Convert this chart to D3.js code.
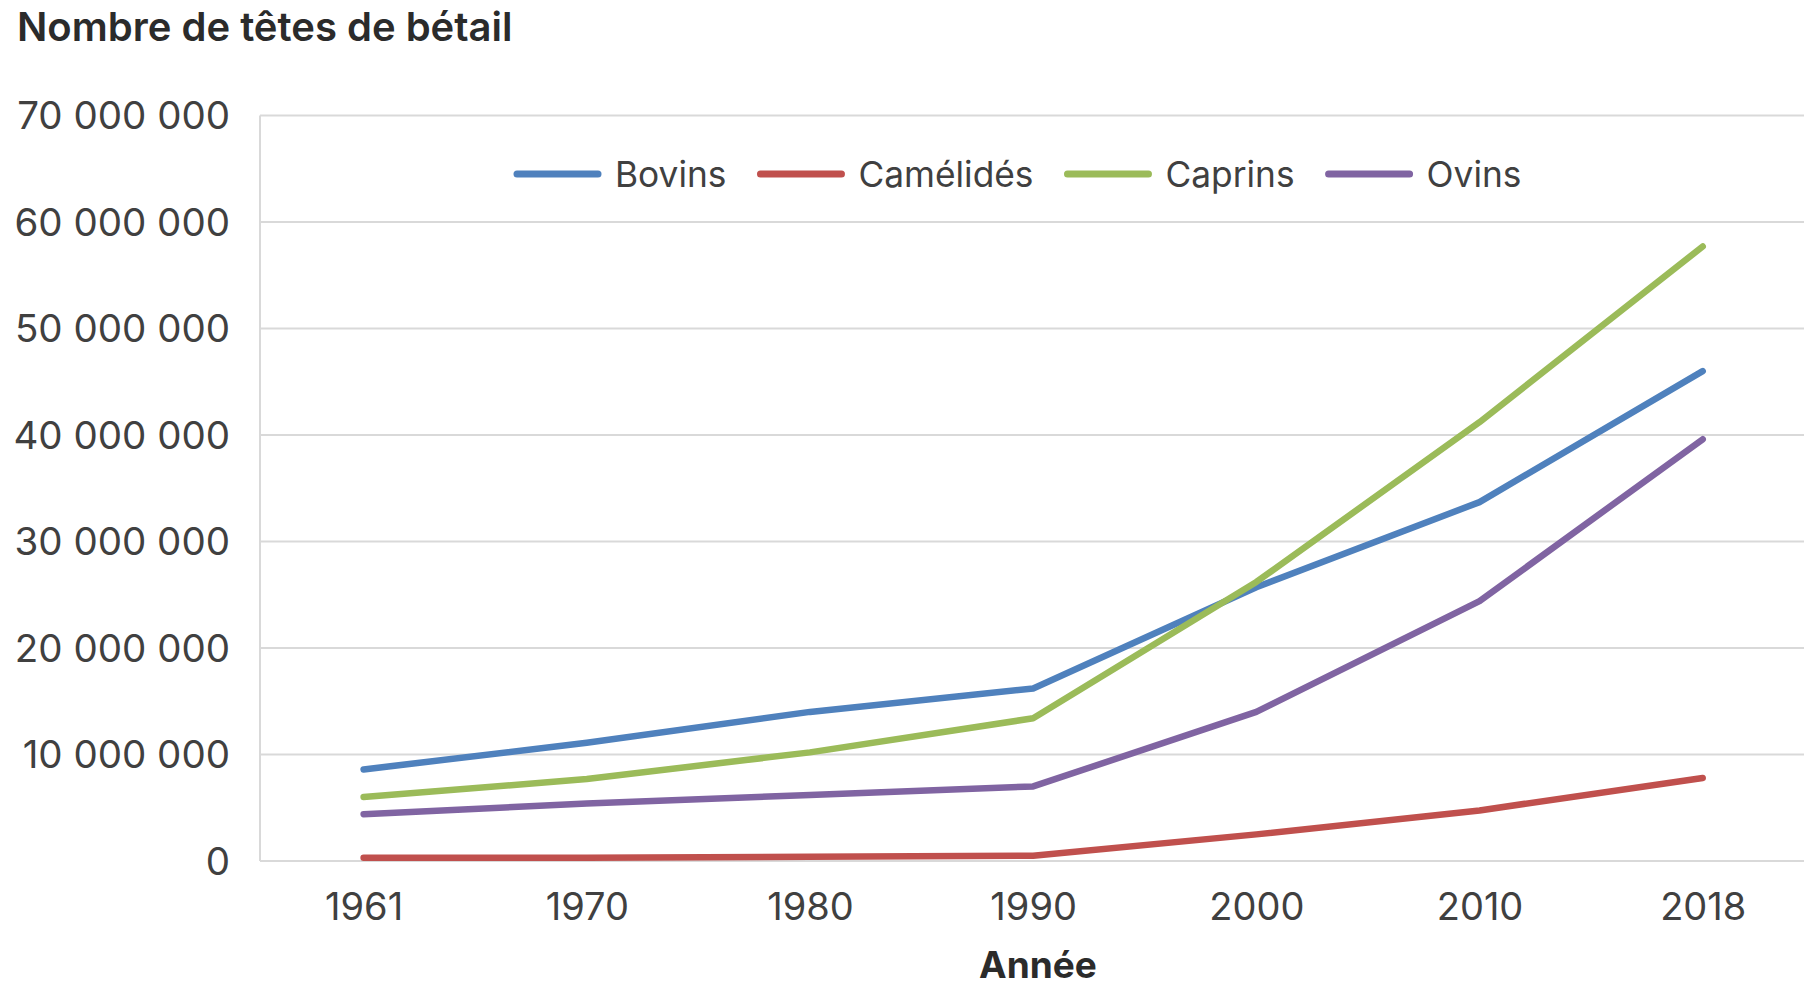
<!DOCTYPE html>
<html lang="fr">
<head>
<meta charset="utf-8">
<script src="https://cdn.jsdelivr.net/npm/d3@7"></script>
<style>
  html, body { margin: 0; padding: 0; background: #ffffff; }
  svg { display: block; }
  text { font-family: Inter, "Open Sans", sans-serif; }
</style>
</head>
<body>
<svg id="chart" width="1804" height="990"></svg>
<script>
// Cheptel : nombre de têtes par espèce
const years = ["1961", "1970", "1980", "1990", "2000", "2010", "2018"];
const seriesNames = ["Bovins", "Camélidés", "Caprins", "Ovins"];
const bovins    = [8.6e6, 11.1e6, 14.0e6, 16.2e6, 25.7e6, 33.7e6, 46.0e6];
const camelides = [0.3e6, 0.3e6, 0.4e6, 0.5e6, 2.5e6, 4.75e6, 7.8e6];
const caprins   = [6.0e6, 7.7e6, 10.2e6, 13.4e6, 26.2e6, 41.2e6, 57.7e6];
const ovins     = [4.4e6, 5.4e6, 6.2e6, 7.0e6, 14.0e6, 24.4e6, 39.6e6];
const yTicks = [0, 10e6, 20e6, 30e6, 40e6, 50e6, 60e6, 70e6];
const colors = ["#4f81bd", "#c0504d", "#9bbb59", "#8064a2"];

const series = [bovins, camelides, caprins, ovins].map((values, i) => ({
  name: seriesNames[i], color: colors[i], values
}));

const svg = d3.select("#chart");
const W = 1804;
const plotLeft = 260, plotTop = 115.5, plotBottom = 861;

const x = d3.scalePoint().domain(years).range([363.6, 1702.7]);
const y = d3.scaleLinear().domain([0, 70e6]).range([plotBottom, plotTop]);

const fmt = v => d3.format(",")(v).replace(/,/g, " ");

// Title
svg.append("text")
  .attr("x", 17).attr("y", 41)
  .attr("font-size", 40).attr("font-weight", 600)
  .attr("fill", "#2b2b2b")
  .text("Nombre de têtes de bétail");

// Horizontal gridlines
svg.append("g").selectAll("line").data(yTicks).join("line")
  .attr("x1", plotLeft).attr("x2", W)
  .attr("y1", d => y(d)).attr("y2", d => y(d))
  .attr("stroke", "#d9d9d9").attr("stroke-width", 2);

// Left axis line
svg.append("line")
  .attr("x1", plotLeft).attr("x2", plotLeft)
  .attr("y1", y(70e6)).attr("y2", y(0))
  .attr("stroke", "#d9d9d9").attr("stroke-width", 2);

// Y axis labels
const yAxis = d3.axisLeft(y).tickValues(yTicks).tickFormat(fmt).tickSize(0).tickPadding(0);
const gy = svg.append("g").attr("transform", "translate(230,0)").call(yAxis);
gy.select(".domain").remove();
gy.selectAll("text")
  .attr("font-family", "Inter, sans-serif")
  .attr("font-size", 38.5).attr("fill", "#404040").attr("dy", "0.34em");

// X axis labels
const xAxis = d3.axisBottom(x).tickSize(0).tickPadding(0);
const gx = svg.append("g").attr("transform", "translate(0,920)").call(xAxis);
gx.select(".domain").remove();
gx.selectAll("text")
  .attr("font-family", "Inter, sans-serif")
  .attr("font-size", 38).attr("fill", "#404040").attr("dy", 0);

// X axis title
svg.append("text")
  .attr("x", 1038).attr("y", 978).attr("text-anchor", "middle")
  .attr("font-size", 37).attr("font-weight", 700).attr("fill", "#2b2b2b")
  .text("Année");

// Series lines
const line = d3.line()
  .x((d, i) => x(years[i]))
  .y(d => y(d));

svg.append("g").selectAll("path").data(series).join("path")
  .attr("d", d => line(d.values))
  .attr("fill", "none")
  .attr("stroke", d => d.color)
  .attr("stroke-width", 6.5)
  .attr("stroke-linecap", "round")
  .attr("stroke-linejoin", "round");

// Legend
const legend = svg.append("g");
let lx = 514;
const ly = 174;
series.forEach(s => {
  legend.append("line")
    .attr("x1", lx + 3).attr("x2", lx + 84)
    .attr("y1", ly).attr("y2", ly)
    .attr("stroke", s.color).attr("stroke-width", 7).attr("stroke-linecap", "round");
  const t = legend.append("text")
    .attr("x", lx + 101).attr("y", ly + 13)
    .attr("font-size", 35.3).attr("fill", "#404040")
    .text(s.name);
  lx = lx + 101 + t.node().getComputedTextLength() + 31;
});
</script>
</body>
</html>
